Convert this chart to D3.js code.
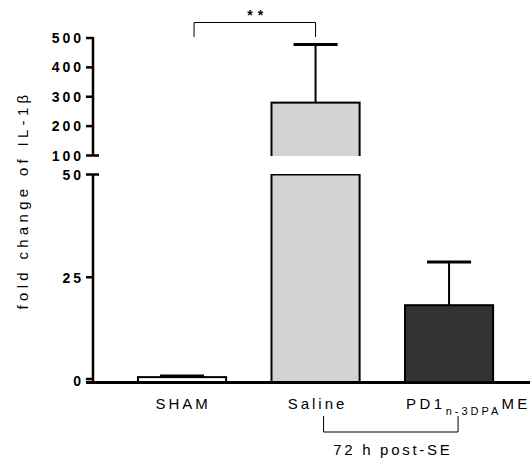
<!DOCTYPE html>
<html>
<head>
<meta charset="utf-8">
<script src="https://cdn.jsdelivr.net/npm/d3@7"></script>
<style>
  body { margin: 0; background: #fff; }
  text { font-family: "Liberation Sans", Arial, sans-serif; }
</style>
</head>
<body>
<svg id="chart" width="530" height="461"></svg>
<script>
var groups = ["SHAM", "Saline", "PD1"];
var means = [0.7, 280, 18.2];
var errors = [0.3, 198, 10.5];
var fills = ["#ffffff", "#d3d3d3", "#333333"];
var topTicks = [100, 200, 300, 400, 500];
var bottomTicks = [0, 25, 50];

var svg = d3.select("#chart");
var axisX = 93;

// broken y axis: two linear pieces
var yTop = d3.scaleLinear().domain([100, 500]).range([155.5, 38]);
var yBot = d3.scaleLinear().domain([0, 50]).range([380, 174.5]);
var x = d3.scaleBand().domain(groups).range([92.6, 538.5]).padding(0.34);
var cx = d => x(d) + x.bandwidth() / 2;

// bars (lower part always, upper part if value goes past the break)
groups.forEach(function(g, i) {
    var v = means[i];
    var low = Math.min(v, 50);
    svg.append("rect")
        .attr("x", x(g)).attr("width", x.bandwidth())
        .attr("y", yBot(low)).attr("height", yBot(0) - yBot(low) + 2)
        .attr("fill", fills[i]).attr("stroke", "#000").attr("stroke-width", 2);
    if (v > 100) {
        svg.append("rect")
            .attr("x", x(g)).attr("width", x.bandwidth())
            .attr("y", yTop(v)).attr("height", yTop(100) - yTop(v) + 2)
            .attr("fill", fills[i]).attr("stroke", "#000").attr("stroke-width", 2);
        // gap at the axis break
        svg.append("rect")
            .attr("x", x(g) - 2).attr("width", x.bandwidth() + 4)
            .attr("y", yTop(100) + 0.5).attr("height", yBot(50) - yTop(100) - 1)
            .attr("fill", "#fff");
    }
    // error bar
    var hi = v + errors[i];
    var yv = v > 100 ? yTop(v) : yBot(v);
    var yh = hi > 100 ? yTop(hi) : yBot(hi);
    svg.append("line")
        .attr("x1", cx(g)).attr("x2", cx(g))
        .attr("y1", yv).attr("y2", yh)
        .attr("stroke", "#000").attr("stroke-width", 2);
    svg.append("line")
        .attr("x1", cx(g) - 22).attr("x2", cx(g) + 22)
        .attr("y1", yh).attr("y2", yh)
        .attr("stroke", "#000").attr("stroke-width", 3);
});

// y axis pieces
var ax = svg.append("g").attr("stroke", "#000");
ax.append("line").attr("x1", axisX).attr("x2", axisX)
    .attr("y1", yTop(500) - 1).attr("y2", yTop(100)).attr("stroke-width", 2.5);
ax.append("line").attr("x1", axisX).attr("x2", axisX)
    .attr("y1", yBot(50)).attr("y2", yBot(0) + 2).attr("stroke-width", 2.5);

topTicks.forEach(function(t) {
    ax.append("line").attr("x1", 86).attr("x2", t == 100 ? 99 : axisX)
        .attr("y1", yTop(t)).attr("y2", yTop(t)).attr("stroke-width", 2.5);
});
bottomTicks.forEach(function(t) {
    ax.append("line").attr("x1", 86).attr("x2", t == 50 ? 99 : axisX)
        .attr("y1", yBot(t) - (t == 0 ? 1 : 0)).attr("y2", yBot(t) - (t == 0 ? 1 : 0))
        .attr("stroke-width", 2.5);
});

var tl = svg.append("g")
    .attr("font-size", 14).attr("font-weight", "bold")
    .attr("text-anchor", "end").attr("letter-spacing", "3px");
topTicks.forEach(function(t) {
    tl.append("text").attr("x", 84).attr("y", yTop(t) + 5).text(t);
});
bottomTicks.forEach(function(t) {
    tl.append("text").attr("x", 84).attr("y", yBot(t) + 5.5).text(t);
});

// x axis
svg.append("line").attr("x1", 86).attr("x2", 530)
    .attr("y1", 382.5).attr("y2", 382.5)
    .attr("stroke", "#000").attr("stroke-width", 3);

// category labels
var cl = svg.append("g").attr("font-size", 15).attr("letter-spacing", "3px");
cl.append("text").attr("x", cx("SHAM") + 1).attr("y", 409)
    .attr("text-anchor", "middle").text("SHAM");
cl.append("text").attr("x", cx("Saline") + 2).attr("y", 409)
    .attr("text-anchor", "middle").text("Saline");
var pd = cl.append("text").attr("x", x("PD1") + 1).attr("y", 409).attr("letter-spacing", "3.5px");
pd.append("tspan").text("PD1");
pd.append("tspan").attr("font-size", 11).attr("dy", 6).attr("letter-spacing", "3px").text("n-3DPA");
pd.append("tspan").attr("dy", -6).text("ME");

// y label
svg.append("text")
    .attr("transform", "translate(28,200) rotate(-90)")
    .attr("text-anchor", "middle")
    .attr("font-size", 15).attr("letter-spacing", "4.3px")
    .text("fold change of IL-1\u03b2");

// significance bracket
var b1 = cx("SHAM") + 12, b2 = cx("Saline");
svg.append("path")
    .attr("d", `M${b1},37 V22.5 H${b2} V37`)
    .attr("fill", "none").attr("stroke", "#000").attr("stroke-width", 1);
svg.append("text").attr("x", (b1 + b2) / 2 + 3).attr("y", 20)
    .attr("text-anchor", "middle").attr("font-size", 14).attr("font-weight", "bold")
    .attr("letter-spacing", "5px").text("**");

// 72 h bracket
var c1 = cx("Saline") + 8, c2 = cx("PD1") + 9;
svg.append("path")
    .attr("d", `M${c1},416 V432 H${c2} V416`)
    .attr("fill", "none").attr("stroke", "#000").attr("stroke-width", 1);
svg.append("text").attr("x", (c1 + c2) / 2 + 2).attr("y", 455)
    .attr("text-anchor", "middle").attr("font-size", 15).attr("letter-spacing", "2.7px")
    .text("72 h post-SE");
</script>
</body>
</html>
